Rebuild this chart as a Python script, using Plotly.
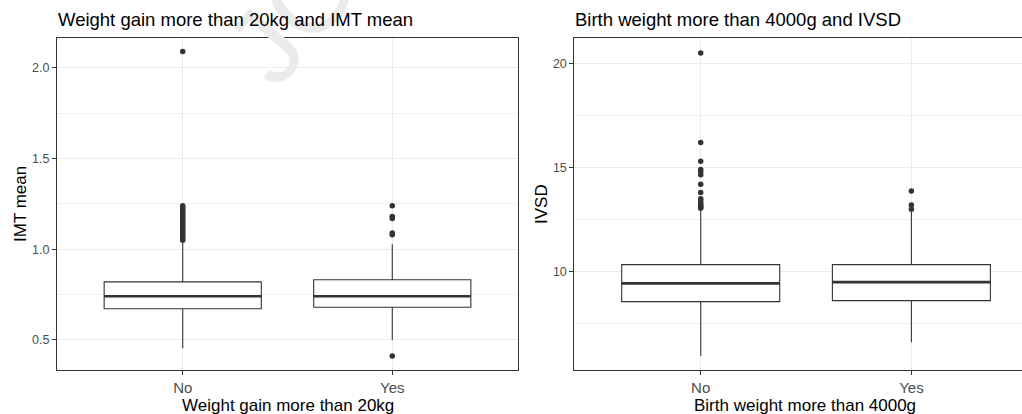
import plotly.graph_objects as go

# ---------------- data ----------------
groups = ["No", "Yes"]

# Left panel: IMT mean by weight gain > 20kg
imt_q1 = [0.672, 0.680]
imt_median = [0.741, 0.741]
imt_q3 = [0.820, 0.832]
imt_lower = [0.454, 0.500]
imt_upper = [1.046, 1.028]
imt_out_no = [1.05, 1.06, 1.07, 1.08, 1.09, 1.10, 1.11, 1.12, 1.13, 1.14, 1.15,
              1.16, 1.17, 1.18, 1.19, 1.20, 1.21, 1.22, 1.23, 1.24, 2.09]
imt_out_yes = [0.411, 1.08, 1.09, 1.17, 1.18, 1.24]
imt_ticks = [0.5, 1.0, 1.5, 2.0]
imt_ticktext = ["0.5", "1.0", "1.5", "2.0"]
imt_minor = [0.75, 1.25, 1.75]

# Right panel: IVSD by birth weight > 4000g
ivsd_q1 = [8.56, 8.61]
ivsd_median = [9.44, 9.50]
ivsd_q3 = [10.34, 10.34]
ivsd_lower = [5.97, 6.61]
ivsd_upper = [12.95, 12.90]
ivsd_out_no = [13.05, 13.1, 13.15, 13.2, 13.3, 13.4, 13.5, 13.8, 14.2, 14.65,
               14.8, 14.9, 15.3, 16.2, 20.5]
ivsd_out_yes = [13.0, 13.2, 13.87]
ivsd_ticks = [10, 15, 20]
ivsd_ticktext = ["10", "15", "20"]

titles = ["Weight gain more than 20kg and IMT mean",
          "Birth weight more than 4000g and IVSD"]
xtitles = ["Weight gain more than 20kg", "Birth weight more than 4000g"]
ytitles = ["IMT mean", "IVSD"]

# ---------------- style ----------------
W, H = 1022, 414
FONT = "Liberation Sans, Arial, sans-serif"
DARK = "#333333"
GRID = "#ebebeb"
BOXW = 0.75

xl = (57 / W, 518 / W)
xr = (574.3 / W, 1.0)
yd = (1 - 370 / H, 1 - 38 / H)

fig = go.Figure()


def add_panel(xa, ya, q1, med, q3, lo, up, out_no, out_yes):
    fig.add_trace(go.Box(
        x=groups, q1=q1, median=med, q3=q3, lowerfence=lo, upperfence=up,
        xaxis=xa, yaxis=ya, width=BOXW, whiskerwidth=0,
        fillcolor="white", line=dict(color=DARK, width=1.1),
        boxpoints=False, showlegend=False, hoverinfo="skip"))
    fig.add_trace(go.Scatter(
        x=["No"] * len(out_no) + ["Yes"] * len(out_yes),
        y=list(out_no) + list(out_yes), mode="markers",
        xaxis=xa, yaxis=ya, showlegend=False,
        marker=dict(color=DARK, size=5.5, line=dict(width=0))))
    for i, m in enumerate(med):
        fig.add_shape(type="line", xref=xa, yref=ya,
                      x0=i - BOXW / 2, x1=i + BOXW / 2, y0=m, y1=m,
                      line=dict(color=DARK, width=2.6), layer="above")


add_panel("x", "y", imt_q1, imt_median, imt_q3, imt_lower, imt_upper,
          imt_out_no, imt_out_yes)
add_panel("x2", "y2", ivsd_q1, ivsd_median, ivsd_q3, ivsd_lower, ivsd_upper,
          ivsd_out_no, ivsd_out_yes)

xcommon = dict(type="category", categoryorder="array", categoryarray=groups,
               showgrid=True, gridcolor=GRID, gridwidth=1,
               showline=True, linecolor=DARK, linewidth=1,
               ticks="outside", ticklen=4, tickcolor=DARK,
               tickfont=dict(family=FONT, size=15, color="#4d4d4d"),
               zeroline=False, fixedrange=True)
ycommon = dict(showgrid=True, gridcolor=GRID, gridwidth=1,
               showline=True, linecolor=DARK, linewidth=1,
               ticks="outside", ticklen=4, tickcolor=DARK,
               tickfont=dict(family=FONT, size=12.5, color="#4d4d4d"),
               zeroline=False, fixedrange=True)

fig.update_layout(
    width=W, height=H,
    margin=dict(l=0, r=0, t=0, b=0),
    paper_bgcolor="white", plot_bgcolor="white",
    font=dict(family=FONT, color="black"),
    xaxis=dict(xcommon, domain=xl, range=[-0.6, 1.6], anchor="y", mirror=True),
    yaxis=dict(ycommon, domain=yd, range=[0.334, 2.165], anchor="x",
               tickvals=imt_ticks, ticktext=imt_ticktext, mirror=True,
               minor=dict(tickvals=imt_minor, showgrid=True,
                          gridcolor="#f2f2f2", gridwidth=1, ticks="")),
    xaxis2=dict(xcommon, domain=xr, range=[-0.6, 1.525], anchor="y2", mirror=True),
    yaxis2=dict(ycommon, domain=yd, range=[5.28, 21.216], anchor="x2",
                tickvals=ivsd_ticks, ticktext=ivsd_ticktext, mirror=False,
                minor=dict(dtick=2.5, tick0=0, showgrid=True,
                           gridcolor="#f2f2f2", gridwidth=1, ticks="")),
)

annotations = []
# faint watermark (drawn first so that titles sit on top of it)
annotations.append(dict(text="JO", x=292 / W, y=1 - 14 / H, xref="paper", yref="paper",
                        xanchor="center", yanchor="middle", textangle=-50,
                        showarrow=False,
                        font=dict(family=FONT, size=108, color="#ebebeb")))
# panel titles
for x0, t in zip([xl[0], xr[0]], titles):
    annotations.append(dict(text=t, x=x0 - 1 / W, y=1 - 20 / H, xref="paper", yref="paper",
                            xanchor="left", yanchor="middle", showarrow=False,
                            font=dict(family=FONT, size=18.5, color="black")))
# x-axis titles
for xc, t in zip([287.5 / W, 805 / W], xtitles):
    annotations.append(dict(text=t, x=xc, y=1 - 405 / H, xref="paper", yref="paper",
                            xanchor="center", yanchor="middle", showarrow=False,
                            font=dict(family=FONT, size=17, color="black")))
# y-axis titles
for xc, t in zip([20 / W, 541 / W], ytitles):
    annotations.append(dict(text=t, x=xc, y=1 - 204 / H, xref="paper", yref="paper",
                            xanchor="center", yanchor="middle", textangle=-90,
                            showarrow=False,
                            font=dict(family=FONT, size=17, color="black")))
fig.update_layout(annotations=annotations)

fig.write_html("out.html")
